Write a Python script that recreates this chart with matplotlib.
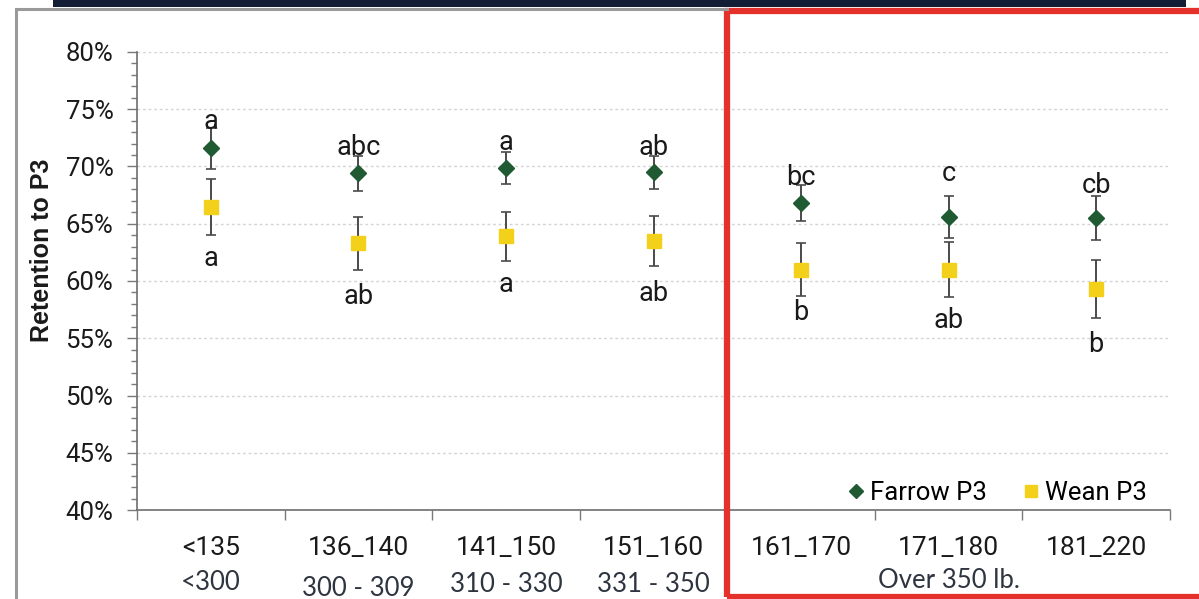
import matplotlib
matplotlib.use("Agg")
import matplotlib.pyplot as plt
from matplotlib.lines import Line2D
from matplotlib.patches import Rectangle
from matplotlib.ticker import MultipleLocator, PercentFormatter

plt.rcParams['font.family'] = ['Roboto', 'DejaVu Sans']

# retention to parity 3 by gilt weight class
categories = ['<135', '136_140', '141_150', '151_160', '161_170', '171_180', '181_220']
weight_groups = ['<300', '300 - 309', '310 - 330', '331 - 350', 'Over 350 lb.']
farrow = [71.6, 69.4, 69.9, 69.5, 66.8, 65.6, 65.5]
farrow_err = [1.8, 1.5, 1.4, 1.45, 1.6, 1.85, 1.9]
wean = [66.5, 63.3, 63.9, 63.5, 61.0, 61.0, 59.3]
wean_err = [2.45, 2.3, 2.15, 2.15, 2.3, 2.4, 2.55]
farrow_letters = ['a', 'abc', 'a', 'ab', 'bc', 'c', 'cb']
wean_letters = ['a', 'ab', 'a', 'ab', 'b', 'ab', 'b']

# label gaps in pixels from the error bar ends
farrow_gap = [-1, 1, 2, 1, 0, 15, 3]
wean_gap = [10, 13, 10, 14, 3, 10, 13]

W, H = 1199, 599
fig = plt.figure(figsize=(W / 100, H / 100), dpi=100)
ax = fig.add_axes([137 / W, 1 - 510 / H, (1170 - 137) / W, (510 - 52) / H])

x = list(range(len(categories)))
green = '#1f5a33'
yellow = '#f3d11a'
bar_c = '#4a4a4a'

ax.errorbar(x, farrow, yerr=farrow_err, fmt='none', ecolor=bar_c, elinewidth=1.4,
            capsize=3.5, capthick=1.2, zorder=3)
ax.errorbar(x, wean, yerr=wean_err, fmt='none', ecolor=bar_c, elinewidth=1.4,
            capsize=3.5, capthick=1.2, zorder=3)
ax.plot(x, farrow, linestyle='none', marker='D', markersize=8, color=green, zorder=4)
ax.plot(x, wean, linestyle='none', marker='s', markersize=9.5, color=yellow, zorder=4)

for i in x:
    ax.annotate(farrow_letters[i], (i, farrow[i] + farrow_err[i]),
                xytext=(0, farrow_gap[i]), textcoords='offset pixels',
                ha='center', va='baseline', fontsize=19.5, color='#1a1a1a')
    ax.annotate(wean_letters[i], (i, wean[i] - wean_err[i]),
                xytext=(0, -wean_gap[i]), textcoords='offset pixels',
                ha='center', va='top', fontsize=19.5, color='#1a1a1a')

ax.set_xlim(-0.5, len(categories) - 0.5)
ax.set_ylim(40, 80)
ax.yaxis.set_major_locator(MultipleLocator(5))
ax.yaxis.set_minor_locator(MultipleLocator(1))
ax.yaxis.set_major_formatter(PercentFormatter(decimals=0))
ax.set_xticks([i - 0.5 for i in range(len(categories) + 1)], minor=False)
ax.set_xticklabels([])
ax.set_xticks(x, minor=True)
ax.set_xticklabels(categories, minor=True, fontsize=19, color='#1a1a1a')
ax.tick_params(axis='x', which='major', length=7, width=1, color='#7a7a7a', direction='out')
ax.tick_params(axis='x', which='minor', length=0, pad=19)
ax.tick_params(axis='y', which='major', length=7, width=1, color='#7a7a7a',
               labelsize=18.5, labelcolor='#1a1a1a', pad=10)
ax.tick_params(axis='y', which='minor', length=4, width=1, color='#7a7a7a')

ax.grid(axis='y', which='major', color='#d4d4d4', linestyle=(0, (2, 2)), linewidth=1)
ax.set_axisbelow(True)
for side in ['top', 'right']:
    ax.spines[side].set_visible(False)
for side in ['left', 'bottom']:
    ax.spines[side].set_color('#6e6e6e')
    ax.spines[side].set_linewidth(1.2)

fig.text(42 / W, 1 - 250 / H, 'Retention to P3', rotation=90, ha='center', va='center',
         fontsize=18, fontweight='bold', family=['Liberation Sans', 'DejaVu Sans'],
         color='#1a1a1a')

# second row of x labels: sow weight classes
weight_x = [0, 1, 2, 3, 5]
weight_y = [582, 588, 585, 585, 580]
for g, xi, yy in zip(weight_groups, weight_x, weight_y):
    ax.text(xi, 1 - (yy - 52) / (510 - 52), g, transform=ax.get_xaxis_transform(),
            ha='center', va='center', fontsize=18.5, family=['Lato', 'DejaVu Sans'],
            color='#2e3440')

legend_handles = [
    Line2D([], [], linestyle='none', marker='D', markersize=7, color=green),
    Line2D([], [], linestyle='none', marker='s', markersize=8, color=yellow),
]
ax.legend(legend_handles, ['Farrow P3', 'Wean P3'], ncol=2, frameon=False,
          loc='lower right', bbox_to_anchor=(1.0, -0.04), fontsize=18.5,
          handletextpad=0.05, columnspacing=1.2, handlelength=1.0)

# slide framing: navy header strip, grey border, red highlight box
fig.add_artist(Rectangle((53 / W, 1 - 7 / H), (1186 - 53) / W, 7 / H,
                         transform=fig.transFigure, color='#131d36', lw=0))
fig.add_artist(Line2D([16 / W, 16 / W], [0, 1 - 9 / H], transform=fig.transFigure,
                      color='#9a9a9a', lw=2.2))
fig.add_artist(Line2D([16 / W, 727 / W], [1 - 9 / H, 1 - 9 / H], transform=fig.transFigure,
                      color='#9a9a9a', lw=2.2))
fig.add_artist(Rectangle((727 / W, 1 - 597 / H), 600 / W, (597 - 11) / H,
                         transform=fig.transFigure, fill=False, edgecolor='#e5312b', lw=4.5))

fig.savefig('out.png', dpi=100)
